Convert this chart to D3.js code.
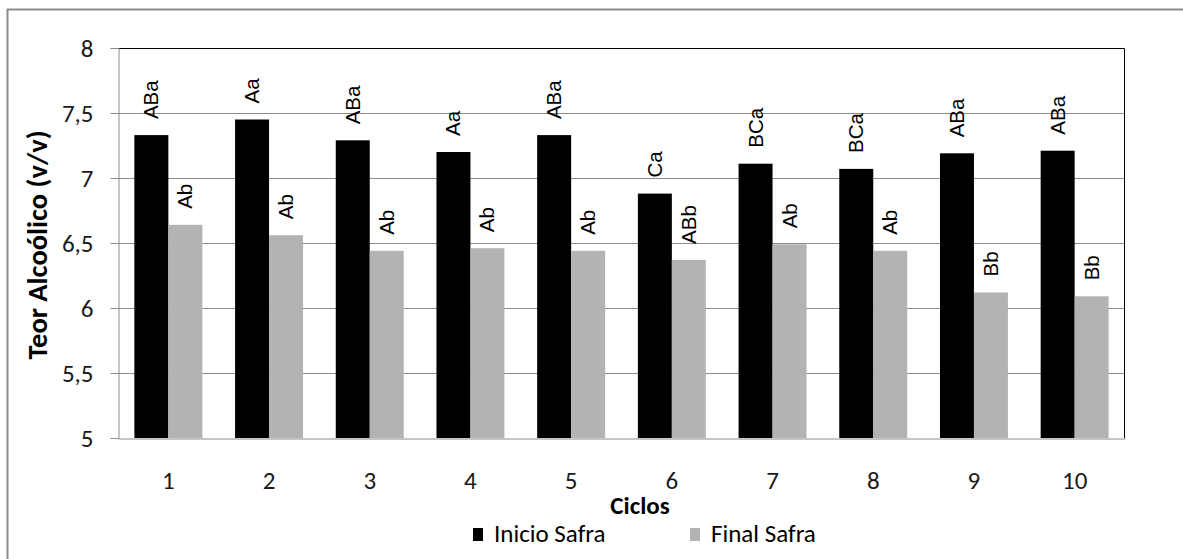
<!DOCTYPE html>
<html>
<head>
<meta charset="utf-8">
<script src="https://cdn.jsdelivr.net/npm/d3@7"></script>
<style>
  html, body { margin: 0; padding: 0; background: #fff; }
  svg { display: block; }
</style>
</head>
<body>
<svg id="chart" width="1183" height="559"></svg>
<script>
// ---- data ----
const categories = ["1","2","3","4","5","6","7","8","9","10"];
const seriesNames = ["Inicio Safra", "Final Safra"];
const inicioValues = [7.33, 7.45, 7.29, 7.20, 7.33, 6.88, 7.11, 7.07, 7.19, 7.21];
const finalValues  = [6.64, 6.56, 6.44, 6.46, 6.44, 6.37, 6.49, 6.44, 6.12, 6.09];
const inicioLabels = ["ABa","Aa","ABa","Aa","ABa","Ca","BCa","BCa","ABa","ABa"];
const finalLabels  = ["Ab","Ab","Ab","Ab","Ab","ABb","Ab","Ab","Bb","Bb"];
const yTicks = [5, 5.5, 6, 6.5, 7, 7.5, 8];
const yTitle = "Teor Alcoólico (v/v)";
const xTitle = "Ciclos";

// ---- layout ----
const W = 1183, H = 559;
const plot = { left: 118, right: 1125, top: 48, bottom: 438 };
const colors = { "Inicio Safra": "#000000", "Final Safra": "#b3b3b3" };
const uiFont = "Carlito, Calibri, Lato, 'Open Sans', sans-serif";
const labelFont = "Arial, 'Liberation Sans', sans-serif";

const svg = d3.select("#chart");

// outer frame (left + top visible)
svg.append("line").attr("x1", 7.5).attr("x2", 7.5).attr("y1", 9).attr("y2", H)
  .attr("stroke", "#8c8c8c").attr("stroke-width", 2);
svg.append("line").attr("x1", 7).attr("x2", W).attr("y1", 9.5).attr("y2", 9.5)
  .attr("stroke", "#8c8c8c").attr("stroke-width", 2);

const y = d3.scaleLinear().domain([5, 8]).range([plot.bottom, plot.top]);
const x0 = d3.scaleBand().domain(categories).range([plot.left, plot.right])
  .paddingInner(0.325).paddingOuter(0.1625);
const x1 = d3.scaleBand().domain(seriesNames).range([0, x0.bandwidth()]).padding(0);

const fmt = d => String(d).replace(".", ",");

// gridlines
svg.append("g").selectAll("line").data(yTicks.filter(t => t > 5 && t < 8)).join("line")
  .attr("x1", plot.left).attr("x2", plot.right)
  .attr("y1", d => Math.round(y(d)) + 0.5).attr("y2", d => Math.round(y(d)) + 0.5)
  .attr("stroke", "#8c8c8c").attr("stroke-width", 1);

// plot top/right border
svg.append("path")
  .attr("d", `M${plot.left},${plot.top + 0.5}H${plot.right - 0.5}V${plot.bottom}`)
  .attr("fill", "none").attr("stroke", "#000").attr("stroke-width", 1);

// bars
const data = categories.map((c, i) => ({
  cat: c,
  vals: [
    { s: "Inicio Safra", v: inicioValues[i], lab: inicioLabels[i] },
    { s: "Final Safra", v: finalValues[i], lab: finalLabels[i] }
  ]
}));

const groups = svg.append("g").selectAll("g").data(data).join("g")
  .attr("transform", d => `translate(${x0(d.cat)},0)`);

groups.selectAll("rect").data(d => d.vals).join("rect")
  .attr("x", d => x1(d.s))
  .attr("width", x1.bandwidth())
  .attr("y", d => y(d.v))
  .attr("height", d => y(5) - y(d.v))
  .attr("fill", d => colors[d.s]);

// data labels (rotated)
groups.selectAll("text").data(d => d.vals).join("text")
  .attr("transform", d => `translate(${x1(d.s) + x1.bandwidth() / 2 + 7},${y(d.v) - 16}) rotate(-90)`)
  .attr("text-anchor", "start")
  .attr("font-family", labelFont)
  .attr("font-size", 20.5)
  .attr("fill", "#000")
  .text(d => d.lab);

// y axis
const yAxis = d3.axisLeft(y).tickValues(yTicks).tickFormat(fmt).tickSize(8).tickPadding(17);
const gy = svg.append("g").attr("transform", `translate(${plot.left + 0.5},0)`).call(yAxis);
gy.select(".domain").attr("stroke", "#8c8c8c");
gy.selectAll(".tick line").attr("stroke", "#8c8c8c");
gy.selectAll(".tick text").attr("font-family", uiFont).attr("font-size", 25).attr("fill", "#1a1a1a");

// x axis
const xAxis = d3.axisBottom(x0).tickSize(0).tickPadding(33);
const gx = svg.append("g").attr("transform", `translate(0,${plot.bottom + 0.5})`).call(xAxis);
gx.select(".domain").attr("stroke", "#8c8c8c");
gx.selectAll(".tick text").attr("font-family", uiFont).attr("font-size", 25).attr("fill", "#1a1a1a");

// axis titles
svg.append("text")
  .attr("transform", `translate(47,${(plot.top + plot.bottom) / 2 + 2}) rotate(-90)`)
  .attr("text-anchor", "middle")
  .attr("font-family", uiFont).attr("font-weight", "bold").attr("font-size", 28.5)
  .attr("fill", "#000")
  .text(yTitle);

svg.append("text")
  .attr("x", 640).attr("y", 514)
  .attr("text-anchor", "middle")
  .attr("font-family", uiFont).attr("font-weight", "bold").attr("font-size", 25)
  .attr("fill", "#000")
  .text(xTitle);

// legend
const legendX = [473, 690];
const lg = svg.append("g").selectAll("g").data(seriesNames).join("g")
  .attr("transform", (d, i) => `translate(${legendX[i]},528)`);
lg.append("rect").attr("width", 10).attr("height", 13).attr("fill", d => colors[d]);
lg.append("text").attr("x", 21).attr("y", 14)
  .attr("font-family", uiFont).attr("font-size", 25).attr("fill", "#000")
  .text(d => d);
</script>
</body>
</html>
